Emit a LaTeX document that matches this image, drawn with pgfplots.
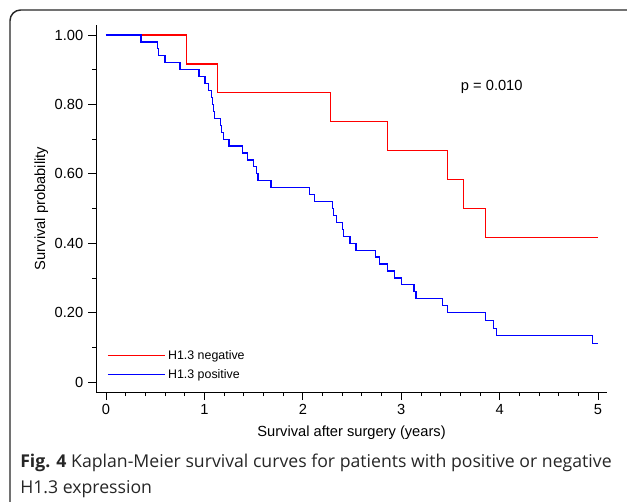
\documentclass[border=0pt]{standalone}
\usepackage{pgfplots}
\pgfplotsset{compat=1.18}
\usepackage{fontspec}
\setmainfont{Liberation Sans}
\newfontfamily\capfont{Open Sans}

% Kaplan-Meier estimates (time in years, survival)
\pgfplotstableread{
t      s
0      1.0000
0.816  0.9167
1.13   0.8333
2.28   0.7500
2.86   0.6667
3.47   0.5833
3.63   0.5000
3.86   0.4167
5.00   0.4167
}\negdata

\pgfplotstableread{
t      s
0      1.00
0.356  0.98
0.52   0.96
0.53   0.94
0.60   0.92
0.752  0.90
0.945  0.88
1.006  0.86
1.04   0.84
1.074  0.82
1.082  0.80
1.09   0.78
1.10   0.76
1.16   0.74
1.17   0.72
1.195  0.70
1.25   0.68
1.39   0.66
1.44   0.64
1.50   0.62
1.53   0.60
1.545  0.58
1.677  0.56
2.066  0.54
2.12   0.52
2.30   0.50
2.31   0.48
2.34   0.46
2.40   0.44
2.41   0.42
2.48   0.40
2.54   0.38
2.74   0.36
2.78   0.34
2.86   0.32
2.93   0.30
3.00   0.28
3.13   0.26
3.15   0.24
3.42   0.22
3.47   0.20
3.855  0.177
3.94   0.155
3.97   0.133
4.94   0.111
5.00   0.111
}\posdata

\begin{document}
\begin{tikzpicture}
\useasboundingbox (0,0) rectangle (470.25pt,375.75pt);

% frame and caption, in pixel units (y downwards)
\begin{scope}[x=0.75pt,y=-0.75pt,yshift=375.75pt]
  \draw[line width=1.1pt,color=black!85,rounded corners=8pt] (10,510) -- (10,10) -- (640,10);
  \node[anchor=base west,inner sep=0pt,font=\capfont\fontsize{13.25}{15}\selectfont,text=black!85] at (20,467)
    {\textbf{Fig. 4} Kaplan-Meier survival curves for patients with positive or negative};
  \node[anchor=base west,inner sep=0pt,font=\capfont\fontsize{13.25}{15}\selectfont,text=black!85] at (20,493)
    {H1.3 expression};
\end{scope}

\begin{axis}[
    at={(72pt,81.75pt)}, anchor=south west,
    scale only axis,
    width=383.25pt, height=275.25pt,
    axis lines=left,
    axis line style={-, line width=0.6pt},
    xmin=-0.1016, xmax=5.0915,
    ymin=-0.0288, ymax=1.0288,
    xtick={0,1,2,3,4,5},
    xticklabels={0,1,2,3,4,5},
    ytick={0,0.2,0.4,0.6,0.8,1},
    yticklabels={0,0.20,0.40,0.60,0.80,1.00},
    minor x tick num=4,
    minor y tick num=1,
    tick align=outside,
    major tick length=6pt,
    minor tick length=3pt,
    tick style={line width=0.6pt, black},
    ticklabel style={font=\fontsize{11}{13}\selectfont},
    xlabel={Survival after surgery (years)},
    ylabel={Survival probability},
    label style={font=\fontsize{11}{13}\selectfont},
    xlabel style={yshift=-1pt},
    ylabel style={yshift=-2pt},
    legend style={at={(axis cs:0.01,0.10)}, anchor=north west, draw=none, fill=none,
        font=\fontsize{9.3}{11}\selectfont, row sep=2pt, inner sep=0pt,
        /tikz/every even column/.append style={column sep=7pt}},
    legend cell align=left,
    legend image code/.code={\draw[#1] (0pt,0pt) -- (42.75pt,0pt);},
    clip=false,
]
\addplot[const plot, red, line width=0.9pt] table[x=t,y=s] {\negdata};
\addlegendentry{H1.3 negative}
\addplot[const plot, blue, line width=0.9pt] table[x=t,y=s] {\posdata};
\addlegendentry{H1.3 positive}
\node[font=\fontsize{11}{13}\selectfont] at (axis cs:3.92,0.851) {p = 0.010};
\end{axis}
\end{tikzpicture}
\end{document}
